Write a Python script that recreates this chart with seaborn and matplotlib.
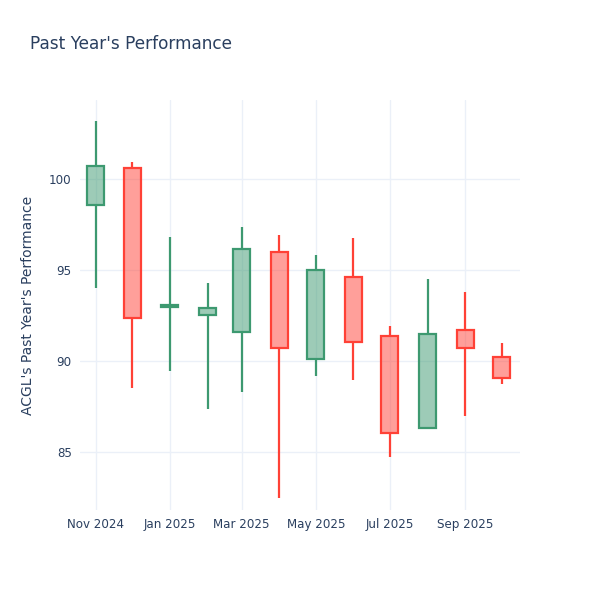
import pandas as pd
import numpy as np
import matplotlib.pyplot as plt
import matplotlib.dates as mdates
import seaborn as sns

sns.set_theme(style="white")
plt.rcParams["font.family"] = ["DejaVu Sans"]

# monthly candles
dates = pd.date_range("2024-11-01", "2025-10-01", freq="MS")
opens = [98.57, 100.62, 92.95, 92.53, 91.59, 95.99, 90.09, 94.60, 91.39, 86.32, 91.72, 90.22]
highs = [103.19, 100.92, 96.83, 94.27, 97.38, 96.90, 95.80, 96.78, 91.91, 94.49, 93.77, 91.00]
lows = [94.00, 88.50, 89.45, 87.38, 88.30, 82.46, 89.14, 88.92, 84.74, 86.25, 86.98, 88.74]
closes = [100.73, 92.33, 93.05, 92.91, 96.17, 90.68, 95.00, 91.04, 86.03, 91.48, 90.71, 89.07]

df = pd.DataFrame({"date": dates, "open": opens, "high": highs, "low": lows, "close": closes})
df["up"] = df["close"] >= df["open"]
df["top"] = df[["open", "close"]].max(axis=1)
df["bottom"] = df[["open", "close"]].min(axis=1)

UP = "#3D9970"
DOWN = "#FF4136"
TEXT = "#2a3f5f"
GRID = "#EBF0F8"

fig = plt.figure(figsize=(6, 6), dpi=100)
ax = fig.add_axes([80 / 600, 90 / 600, 440 / 600, 410 / 600])

for _, row in df.iterrows():
    c = UP if row["up"] else DOWN
    # wicks above and below the body
    ax.vlines(row["date"], row["top"], row["high"], color=c, linewidth=1.6, zorder=3)
    ax.vlines(row["date"], row["low"], row["bottom"], color=c, linewidth=1.6, zorder=3)
    # half-transparent fill, then solid outline
    ax.bar(row["date"], row["top"] - row["bottom"], bottom=row["bottom"], width=14,
           color=c, alpha=0.5, edgecolor="none", zorder=3)
    ax.bar(row["date"], row["top"] - row["bottom"], bottom=row["bottom"], width=14,
           facecolor="none", edgecolor=c, linewidth=1.6, zorder=4)

ax.set_ylim(81.8, 104.34)
ax.set_xlim(dates[0] - pd.Timedelta(days=13), dates[-1] + pd.Timedelta(days=15))

ax.set_yticks([85, 90, 95, 100])
ax.xaxis.set_major_locator(mdates.MonthLocator(bymonth=[1, 3, 5, 7, 9, 11]))
ax.xaxis.set_major_formatter(mdates.DateFormatter("%b %Y"))

ax.grid(True, color=GRID, linewidth=1, zorder=0)
ax.set_axisbelow(True)
for s in ax.spines.values():
    s.set_visible(False)
ax.tick_params(axis="both", length=0, labelsize=8.6, labelcolor=TEXT, pad=6)

ax.set_ylabel("ACGL's Past Year's Performance", fontsize=10, color=TEXT, labelpad=10)
ax.set_xlabel("")
fig.text(30 / 600, 1 - 44 / 600, "Past Year's Performance", fontsize=12.2, color=TEXT, va="center")

fig.savefig("out.png", dpi=100, facecolor="white")
